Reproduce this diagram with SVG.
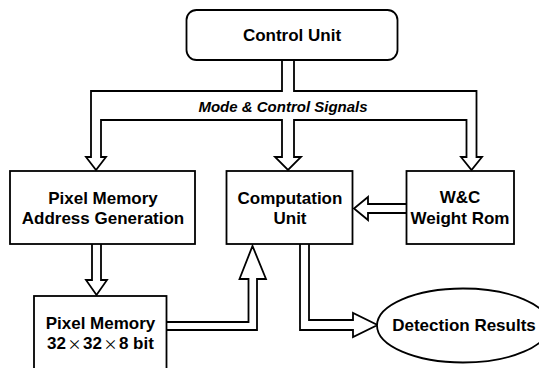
<svg xmlns="http://www.w3.org/2000/svg" width="539" height="368" viewBox="0 0 539 368">
<style>
.box{fill:#fff;stroke:#000;stroke-width:1.8}
.conn{fill:none;stroke:#000;stroke-width:1.8;stroke-linejoin:miter}
.t{font-family:"Liberation Sans",Arial,sans-serif;font-weight:bold;font-size:17px;text-anchor:middle;fill:#000}
.lbl{font-family:"Liberation Sans",Arial,sans-serif;font-weight:bold;font-style:italic;font-size:15px;text-anchor:middle;fill:#000}
.x{font-family:"Noto Sans CJK SC",sans-serif;font-weight:normal;font-size:14px}
</style>
<rect width="539" height="368" fill="#fff"/>
<g id="connectors">
<path class="conn" d="M282,60 V91 H91 V157 H86 L96,170 L106,157 H101 V120 H282 V157 H275 L288,170 L301,157 H294 V120 H466.5 V157 H461 L471.5,170 L482,157 H476.5 V91 H294 V60"/>
<path class="conn" d="M406.5,204 H368 V197 L354,208.5 L368,220 V213 H406.5"/>
<path class="conn" d="M92,244 V280 H86 L96.5,295 L107,280 H101 V244"/>
<path class="conn" d="M166.5,322 H248.5 V279 H239.5 L252.5,246 L266,279 H257 V330 H166.5"/>
<path class="conn" d="M300,244 V330 H353 V337 L377.5,325 L353,313 V320 H309 V244"/>
<text class="lbl" x="283" y="112">Mode &amp; Control Signals</text>
</g>
<g id="control-unit">
<rect class="box" x="186.5" y="10" width="211" height="50" rx="10"/>
<text class="t" x="292" y="41">Control Unit</text>
</g>
<g id="pixel-memory-address-generation">
<rect class="box" x="10" y="171" width="185" height="73"/>
<text class="t" x="103" y="204">Pixel Memory</text>
<text class="t" x="103" y="224">Address Generation</text>
</g>
<g id="computation-unit">
<rect class="box" x="226.5" y="171" width="126" height="73"/>
<text class="t" x="290" y="204">Computation</text>
<text class="t" x="290" y="224">Unit</text>
</g>
<g id="weight-rom">
<rect class="box" x="406.5" y="171" width="107.5" height="73"/>
<text class="t" x="460" y="203">W&amp;C</text>
<text class="t" x="460" y="224">Weight Rom</text>
</g>
<g id="pixel-memory">
<rect class="box" x="34" y="296" width="132.5" height="80"/>
<text class="t" x="100.5" y="329">Pixel Memory</text>
<text class="t" x="100.5" y="349">32<tspan class="x" dx="1.5">×</tspan><tspan dx="1.5">32</tspan><tspan class="x" dx="1.5">×</tspan><tspan dx="1.5">8 bit</tspan></text>
</g>
<g id="detection-results">
<ellipse class="box" cx="463" cy="325.5" rx="86" ry="37"/>
<text class="t" x="464" y="331">Detection Results</text>
</g>
</svg>
